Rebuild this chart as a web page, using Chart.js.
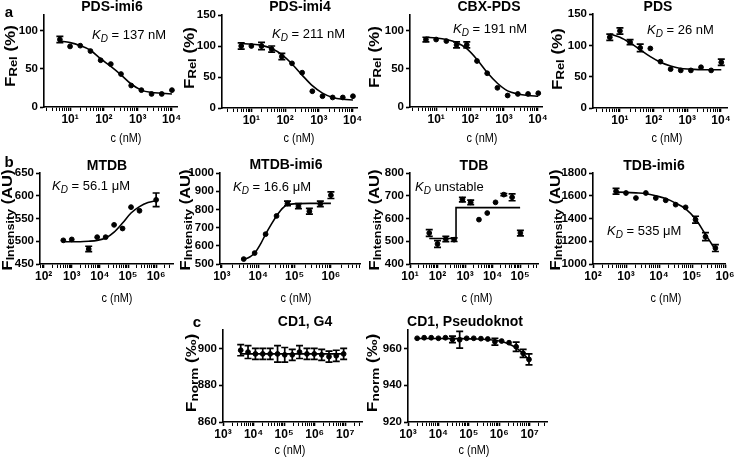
<!DOCTYPE html>
<html><head><meta charset="utf-8">
<script src="https://cdn.jsdelivr.net/npm/chart.js@4.4.1/dist/chart.umd.min.js"></script>
<style>
body{margin:0;width:734px;height:459px;position:relative;overflow:hidden;background:#fff;font-family:"Liberation Sans",Arial,sans-serif;color:#000}
canvas{position:absolute}
.t{position:absolute;white-space:nowrap;line-height:1;transform:translate(-50%,-50%)}
.ttl{font-weight:bold;font-size:14px}
.xt{font-size:13px;transform:translate(-50%,-50%) scaleX(0.84)}
.yt{font-weight:bold;font-size:17px;transform:translate(-50%,-50%) rotate(-90deg) scaleY(0.85)}
.yt span{font-size:13px;vertical-align:-3px}
.yb{font-size:16.5px}
.yb span{font-size:12.5px}
.yc{font-size:17.5px}
.yc span{font-size:13.5px}
.kd{position:absolute;white-space:nowrap;line-height:1;font-size:13px;transform:translate(0,-50%)}
.kd sub{font-size:10px;vertical-align:-3px}
.lt{position:absolute;font-weight:bold;font-size:15px;line-height:1;transform:translate(-50%,-50%)}
</style></head><body>

<div class="lt" style="left:9px;top:11px">a</div>
<div class="lt" style="left:9px;top:161px">b</div>
<div class="lt" style="left:197px;top:321px">c</div>

<div class="t ttl" style="left:112px;top:6px">PDS-imi6</div>
<div class="t ttl" style="left:300px;top:6px">PDS-imi4</div>
<div class="t ttl" style="left:489px;top:6px">CBX-PDS</div>
<div class="t ttl" style="left:658px;top:6px">PDS</div>
<div class="t ttl" style="left:107px;top:165px">MTDB</div>
<div class="t ttl" style="left:286px;top:164px">MTDB-imi6</div>
<div class="t ttl" style="left:474px;top:165px">TDB</div>
<div class="t ttl" style="left:654px;top:165px">TDB-imi6</div>
<div class="t ttl" style="left:305px;top:321px">CD1, G4</div>
<div class="t ttl" style="left:465px;top:321px">CD1, Pseudoknot</div>

<div class="t xt" style="left:126px;top:137px">c (nM)</div>
<div class="t xt" style="left:299px;top:137px">c (nM)</div>
<div class="t xt" style="left:482px;top:137px">c (nM)</div>
<div class="t xt" style="left:667px;top:137px">c (nM)</div>
<div class="t xt" style="left:117px;top:297px">c (nM)</div>
<div class="t xt" style="left:296px;top:297px">c (nM)</div>
<div class="t xt" style="left:477px;top:297px">c (nM)</div>
<div class="t xt" style="left:666px;top:297px">c (nM)</div>
<div class="t xt" style="left:290px;top:449px">c (nM)</div>
<div class="t xt" style="left:474px;top:449px">c (nM)</div>

<div class="t yt" style="left:11px;top:56px">F<span>Rel</span> (%)</div>
<div class="t yt" style="left:190px;top:58px">F<span>Rel</span> (%)</div>
<div class="t yt" style="left:375px;top:57px">F<span>Rel</span> (%)</div>
<div class="t yt" style="left:558px;top:59px">F<span>Rel</span> (%)</div>
<div class="t yt yb" style="left:8px;top:220px">F<span>Intensity</span> (AU)</div>
<div class="t yt yb" style="left:186px;top:220px">F<span>Intensity</span> (AU)</div>
<div class="t yt yb" style="left:375px;top:220px">F<span>Intensity</span> (AU)</div>
<div class="t yt yb" style="left:556px;top:220px">F<span>Intensity</span> (AU)</div>
<div class="t yt yc" style="left:192px;top:373px">F<span>norm</span> (‰)</div>
<div class="t yt yc" style="left:373px;top:373px">F<span>norm</span> (‰)</div>

<div class="kd" style="left:92px;top:36px"><i>K</i><sub><i>D</i></sub> = 137 nM</div>
<div class="kd" style="left:272px;top:35px"><i>K</i><sub><i>D</i></sub> = 211 nM</div>
<div class="kd" style="left:453px;top:30px"><i>K</i><sub><i>D</i></sub> = 191 nM</div>
<div class="kd" style="left:647px;top:31px"><i>K</i><sub><i>D</i></sub> = 26 nM</div>
<div class="kd" style="left:52px;top:187px"><i>K</i><sub><i>D</i></sub> = 56.1 μM</div>
<div class="kd" style="left:233px;top:188px"><i>K</i><sub><i>D</i></sub> = 16.6 μM</div>
<div class="kd" style="left:415px;top:188px"><i>K</i><sub><i>D</i></sub> unstable</div>
<div class="kd" style="left:607px;top:232px"><i>K</i><sub><i>D</i></sub> = 535 μM</div>

<script>
// ---------- DATA ----------
// Row a: concentrations (nM)
const concA = [5,10,20,40,80,160,320,640,1280,2560,5120,10240];
const imi6Y   = [88,79,80,73,61,56,43,28,22,17,17,22];
const imi6Err = [4,0,0,0,0,0,0,0,0,0,0,0];
const imi6Fit = [86,84,80,74,63,53,42,30,22,19,18,17];

const imi4Y   = [100,100,100,95,83,72,57,27,19,17,17,19];
const imi4Err = [5,0,6,5,5,0,0,0,0,0,0,0];
const imi4Fit = [104,103,101,96,86,71,53,36,24,17,14,13];

const cbxY   = [88,88,86,81,81,60,44,25,15,17,17,18];
const cbxErr = [3,0,0,4,4,0,0,0,0,0,0,0];
const cbxFit = [91,90,88,84,76,62,45,31,21,17,15,14];

const pdsY   = [113,123,105,96,95,74,62,60,60,65,60,73];
const pdsErr = [5,5,4,6,0,0,0,0,0,0,0,5];
const pdsFit = [118,113,104,93,82,73,67,63,62,61,61,61];

// Row b
const mtdbX    = [500,1000,4000,8000,16000,32000,64000,128000,256000,1000000];
const mtdbY    = [502,504,483,509,509,536,528,575,567,591];
const mtdbErr  = [0,0,6,0,0,0,0,0,0,15];
const mtdbFitX = [500,1000,2000,4000,8000,16000,32000,64000,128000,256000,512000,1000000];
const mtdbFitY = [499,499,499,500,502,507,520,540,562,576,585,589];

const m6X    = [4000,8000,16000,32000,64000,128000,256000,512000,1000000];
const m6Y    = [527,560,664,764,833,818,790,830,878];
const m6Err  = [0,0,0,0,12,14,16,15,18];
const m6FitX = [4000,6000,8000,12000,16000,24000,32000,48000,64000,128000,256000,512000,1000000];
const m6FitY = [524,540,560,615,664,725,764,808,825,832,833,833,833];

const tdbX    = [50,100,200,400,800,1600,3200,6400,12800,25600,51200,102400];
const tdbY    = [536,488,510,507,683,671,595,624,671,705,693,536];
const tdbErr  = [15,15,12,8,10,10,0,0,0,5,15,12];
const tdbFitX = [50,470,470,100000];
const tdbFitY = [512,512,648,648];

const t6X    = [500,1000,2000,4000,8000,16000,32000,64000,128000,256000,512000];
const t6Y    = [1639,1624,1580,1624,1580,1560,1522,1498,1390,1240,1140];
const t6Err  = [25,0,0,0,0,0,0,0,30,35,30];
const t6FitY = [1632,1630,1625,1618,1600,1575,1535,1485,1395,1260,1125];

// Row c
const g4X    = [3800,6600,11500,20000,35000,61000,105000,185000,320000,560000,970000,1700000,2950000,5100000,8900000];
const g4Y    = [899,898,897,897,897,897,896.5,896.5,898,897,897,896.5,895.5,896,897];
const g4Err  = [3,3.5,3,3,3,4.5,4,3,3.5,3,3,3,3,3,3];
const g4FitX = [3800,8900000];
const g4FitY = [897,897];

const pkX    = [2000,3400,5800,10000,17000,29000,50000,85000,145000,250000,420000,720000,1200000,2100000,3600000,6100000,9500000];
const pkY    = [965.5,965.8,965.8,965.5,965.8,964.9,964.7,965.5,965.5,965.3,965.1,963.6,964.0,963.1,960.9,957.3,954.0];
const pkErr  = [0,0,0,0,0,1.8,4.5,0,0,0,0,1.8,0,0,2.5,2.2,3];
const pkFitX = [2000,50000,200000,500000,1000000,2000000,3600000,6100000,9500000];
const pkFitY = [965.4,965.3,965.1,964.7,964.0,962.5,960.3,957.2,953.8];

// Tick values / labels
const ticksA = [10,100,1000,10000];       const labelsA = ['10¹','10²','10³','10⁴'];
const ticksMTDB = [100,1000,10000,100000,1000000]; const labelsMTDB = ['10²','10³','10⁴','10⁵','10⁶'];
const ticksM6 = [1000,10000,100000,1000000];  const labelsM6 = ['10³','10⁴','10⁵','10⁶'];
const ticksTDB = [10,100,1000,10000,100000];  const labelsTDB = ['10¹','10²','10³','10⁴','10⁵'];
const ticksT6 = [100,1000,10000,100000,1000000]; const labelsT6 = ['10²','10³','10⁴','10⁵','10⁶'];
const ticksC = [1000,10000,100000,1000000,10000000]; const labelsC = ['10³','10⁴','10⁵','10⁶','10⁷'];

// ---------- DRAWING ----------
const FONT = '"Liberation Sans", Arial, sans-serif';
const pts = (xs, ys) => xs.map((x,i)=>({x, y: ys[i]}));

const errorBars = {
  id:'errorBars',
  afterDatasetsDraw(chart){
    const ctx = chart.ctx, xs = chart.scales.x, ys = chart.scales.y;
    chart.data.datasets.forEach(ds=>{
      if(!ds.errors) return;
      ctx.save(); ctx.strokeStyle='#000'; ctx.lineWidth=1.7;
      ds.data.forEach((p,i)=>{
        const e = ds.errors[i]; if(!e) return;
        const x = xs.getPixelForValue(p.x), y1 = ys.getPixelForValue(p.y+e), y2 = ys.getPixelForValue(p.y-e);
        ctx.beginPath();
        ctx.moveTo(x,y1); ctx.lineTo(x,y2);
        ctx.moveTo(x-3.5,y1); ctx.lineTo(x+3.5,y1);
        ctx.moveTo(x-3.5,y2); ctx.lineTo(x+3.5,y2);
        ctx.stroke();
      });
      ctx.restore();
    });
  }
};

const PADT = 10, PADR = 12, YW = 50, XH = 30;

function panel(o){
  const c = document.createElement('canvas');
  const w = o.R - o.L + YW + PADR, h = o.B - o.T + PADT + XH;
  c.width = w; c.height = h;
  c.style.left = (o.L - YW) + 'px'; c.style.top = (o.T - PADT) + 'px';
  document.body.insertBefore(c, document.body.firstChild);
  const xmin = Math.pow(10, o.xlo), xmax = Math.pow(10, o.xhi);
  const isMaj = v => o.xticks.some(t => Math.abs(Math.log10(t) - Math.log10(v)) < 1e-6);
  new Chart(c, {
    type:'scatter',
    data:{datasets:[
      {data: pts(o.fitX, o.fitY), showLine:true, pointRadius:0, borderColor:'#000', borderWidth:1.6,
       cubicInterpolationMode: o.step ? 'default' : 'monotone', tension: 0, order:2},
      {data: pts(o.x, o.y), errors: o.err, pointRadius:2.4, pointBackgroundColor:'#000', pointBorderColor:'#000', showLine:false, order:1}
    ]},
    options:{
      responsive:false, animation:false, devicePixelRatio:1,
      layout:{padding:{left:0, top:PADT, right:PADR, bottom:0}},
      plugins:{legend:{display:false}, tooltip:{enabled:false}},
      scales:{
        x:{type:'logarithmic', min:xmin, max:xmax, position:'bottom',
           border:{display:true, color:'#000', width:1.6},
           grid:{drawOnChartArea:false, drawTicks:true, tickLength:4, tickColor:'#000',
                 tickWidth: ctx => (ctx.tick && isMaj(ctx.tick.value)) ? 1.6 : 1},
           ticks:{autoSkip:false, maxRotation:0, minRotation:0, padding:1, color:'#000',
                  font:{family:FONT, size:12, weight:'bold'},
                  callback: v => { const i = o.xticks.findIndex(t => Math.abs(Math.log10(t)-Math.log10(v))<1e-6); return i>=0 ? o.xlabels[i] : ''; }},
           afterBuildTicks: s => {
             const t = [];
             for(let k=Math.floor(o.xlo); k<=Math.ceil(o.xhi); k++){
               for(let m=1;m<=9;m++){ const v = m*Math.pow(10,k); if(v>=xmin*0.999 && v<=xmax*1.001) t.push({value:v, major:m===1}); }
             }
             s.ticks = t;
           },
           afterFit: s => { s.height = XH; s.paddingLeft = 0; s.paddingRight = 0; }
        },
        y:{type:'linear', min:o.ylo, max:o.yhi, position:'left',
           border:{display:true, color:'#000', width:1.6},
           grid:{drawOnChartArea:false, drawTicks:true, tickLength:4, tickColor:'#000', tickWidth:1.6},
           ticks:{stepSize:o.ystep, includeBounds:false, padding:2, color:'#000',
                  font:{family:FONT, size:11.5, weight:'bold'}, callback: v => String(v)},
           afterFit: s => { s.width = YW; s.paddingTop = 0; s.paddingBottom = 0; }
        }
      }
    },
    plugins:[errorBars]
  });
}

panel({L:44,T:15,R:177,B:107, xlo:0.23,xhi:4.16, ylo:0,yhi:120,ystep:50, xticks:ticksA,xlabels:labelsA,
  x:concA,y:imi6Y,err:imi6Err, fitX:concA,fitY:imi6Fit});
panel({L:222,T:15,R:357,B:108, xlo:0.13,xhi:4.13, ylo:0,yhi:150,ystep:50, xticks:ticksA,xlabels:labelsA,
  x:concA,y:imi4Y,err:imi4Err, fitX:concA,fitY:imi4Fit});
panel({L:410,T:15,R:542,B:107, xlo:0.23,xhi:4.12, ylo:0,yhi:120,ystep:50, xticks:ticksA,xlabels:labelsA,
  x:concA,y:cbxY,err:cbxErr, fitX:concA,fitY:cbxFit});
panel({L:593,T:14,R:727,B:108, xlo:0.2,xhi:4.18, ylo:0,yhi:150,ystep:50, xticks:ticksA,xlabels:labelsA,
  x:concA,y:pdsY,err:pdsErr, fitX:concA,fitY:pdsFit});

panel({L:40,T:173,R:173,B:264, xlo:1.87,xhi:6.6, ylo:450,yhi:650,ystep:50, xticks:ticksMTDB,xlabels:labelsMTDB,
  x:mtdbX,y:mtdbY,err:mtdbErr, fitX:mtdbFitX,fitY:mtdbFitY});
panel({L:220,T:173,R:360,B:264, xlo:2.95,xhi:6.8, ylo:500,yhi:1000,ystep:100, xticks:ticksM6,xlabels:labelsM6,
  x:m6X,y:m6Y,err:m6Err, fitX:m6FitX,fitY:m6FitY});
panel({L:410,T:173,R:538,B:264, xlo:1,xhi:5.65, ylo:400,yhi:800,ystep:100, xticks:ticksTDB,xlabels:labelsTDB,
  x:tdbX,y:tdbY,err:tdbErr, fitX:tdbFitX,fitY:tdbFitY, step:true});
panel({L:593,T:173,R:725,B:264, xlo:2,xhi:6, ylo:1000,yhi:1800,ystep:200, xticks:ticksT6,xlabels:labelsT6,
  x:t6X,y:t6Y,err:t6Err, fitX:t6X,fitY:t6FitY});

panel({L:223,T:330,R:362,B:422, xlo:3,xhi:7.55, ylo:860,yhi:910,ystep:20, xticks:ticksC,xlabels:labelsC,
  x:g4X,y:g4Y,err:g4Err, fitX:g4FitX,fitY:g4FitY});
panel({L:408,T:330,R:547,B:422, xlo:3,xhi:7.57, ylo:920,yhi:970,ystep:20, xticks:ticksC,xlabels:labelsC,
  x:pkX,y:pkY,err:pkErr, fitX:pkFitX,fitY:pkFitY});
</script>
</body></html>
